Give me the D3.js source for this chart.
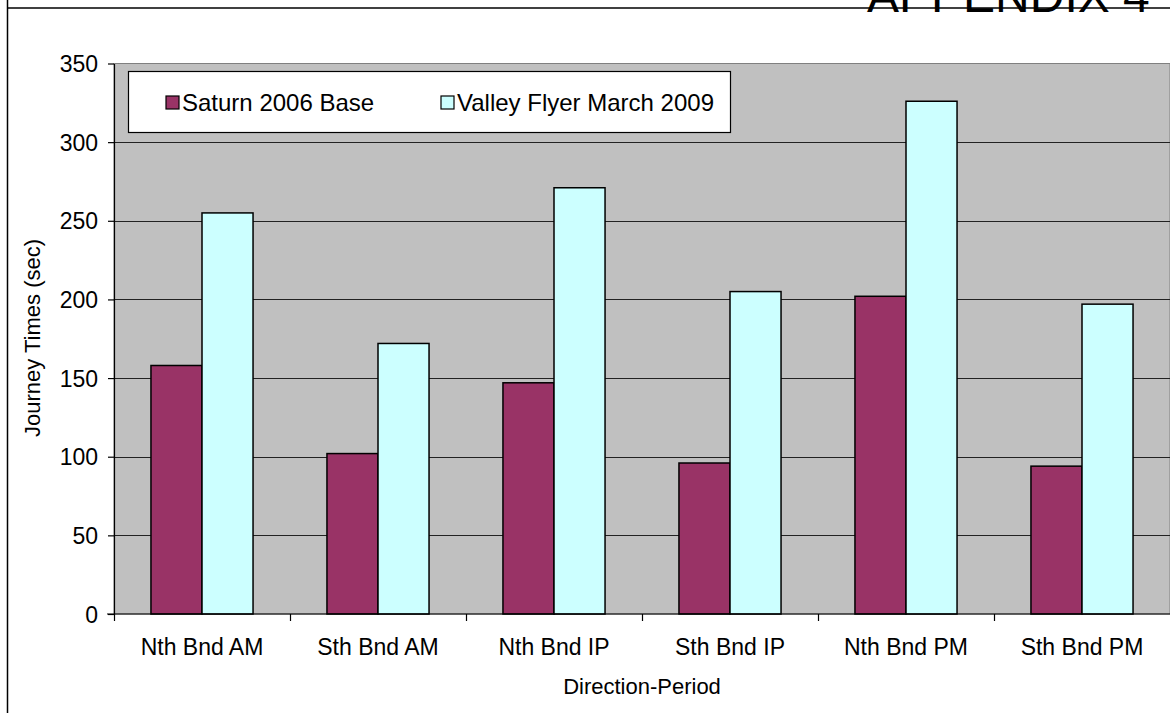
<!DOCTYPE html>
<html>
<head>
<meta charset="utf-8">
<script src="https://cdn.jsdelivr.net/npm/d3@7"></script>
<style>
  html, body { margin: 0; padding: 0; background: #fff; }
  svg { display: block; }
  text { font-family: "Liberation Sans", Arial, sans-serif; fill: #000; }
</style>
</head>
<body>
<svg id="chart" width="1170" height="713"></svg>
<script>
// Journey times by direction and period
const categories = ["Nth Bnd AM", "Sth Bnd AM", "Nth Bnd IP", "Sth Bnd IP", "Nth Bnd PM", "Sth Bnd PM"];
const seriesNames = ["Saturn 2006 Base", "Valley Flyer March 2009"];
const saturn2006 = [158, 102, 147, 96, 202, 94];
const valleyFlyer2009 = [255, 172, 271, 205, 326, 197];
const yTicks = [0, 50, 100, 150, 200, 250, 300, 350];
const seriesColors = ["#993366", "#CCFFFF"];

const svg = d3.select("#chart");
const W = 1170, H = 713;
const plot = { left: 114, right: 1170, top: 63.5, bottom: 614 };

// Page frame and heading
svg.append("line").attr("x1", 7.5).attr("y1", 0).attr("x2", 7.5).attr("y2", H)
  .attr("stroke", "#000").attr("stroke-width", 1.5);
svg.append("line").attr("x1", 7.5).attr("y1", 8).attr("x2", W).attr("y2", 8)
  .attr("stroke", "#000").attr("stroke-width", 1.5);
svg.append("text").attr("x", 867).attr("y", 12)
  .style("font-size", "48px").text("APPENDIX 4");

const x0 = d3.scaleBand().domain(categories).range([plot.left, plot.right]).padding(0);
const x1 = d3.scaleBand().domain(seriesNames)
  .range([x0.bandwidth() * 0.21, x0.bandwidth() * 0.79]).padding(0);
const y = d3.scaleLinear().domain([0, 350]).range([plot.bottom, plot.top]);

// Plot area background
svg.append("rect").attr("x", plot.left).attr("y", plot.top)
  .attr("width", plot.right - plot.left).attr("height", plot.bottom - plot.top)
  .attr("fill", "#C0C0C0").attr("stroke", "#808080").attr("stroke-width", 1);

// Horizontal gridlines
svg.append("g").selectAll("line").data(yTicks.filter(d => d > 0 && d < 350)).join("line")
  .attr("x1", plot.left).attr("x2", plot.right)
  .attr("y1", d => Math.round(y(d)) + 0.5).attr("y2", d => Math.round(y(d)) + 0.5)
  .attr("stroke", "#222").attr("stroke-width", 1.2);

// Bars
const rows = categories.map((c, i) => ({ cat: c, values: [saturn2006[i], valleyFlyer2009[i]] }));
const groups = svg.append("g").selectAll("g").data(rows).join("g")
  .attr("transform", d => `translate(${x0(d.cat)},0)`);
groups.selectAll("rect").data(d => d.values.map((v, k) => ({ name: seriesNames[k], v, k }))).join("rect")
  .attr("x", d => x1(d.name))
  .attr("y", d => y(d.v))
  .attr("width", x1.bandwidth())
  .attr("height", d => y(0) - y(d.v))
  .attr("fill", d => seriesColors[d.k])
  .attr("stroke", "#000").attr("stroke-width", 1.5);

// Y axis
const yAxis = svg.append("g").attr("transform", `translate(${plot.left},0)`)
  .call(d3.axisLeft(y).tickValues(yTicks).tickSize(6).tickPadding(10).tickSizeOuter(0));
yAxis.select(".domain").attr("stroke", "#000").attr("stroke-width", 1.2);
yAxis.selectAll(".tick line").attr("stroke", "#000").attr("stroke-width", 1.2);
yAxis.selectAll("text").style("font-size", "23px").attr("dy", "0.35em")
  .style("font-family", "'Liberation Sans', Arial, sans-serif");

// X axis: boundary ticks between categories
const boundaries = categories.map(c => x0(c));
const xAxisG = svg.append("g");
xAxisG.append("line").attr("x1", plot.left - 7).attr("x2", plot.right)
  .attr("y1", plot.bottom).attr("y2", plot.bottom)
  .attr("stroke", "#000").attr("stroke-width", 1.2);
xAxisG.selectAll("line.tk").data(boundaries).join("line").attr("class", "tk")
  .attr("x1", d => d + 0.5).attr("x2", d => d + 0.5)
  .attr("y1", plot.bottom).attr("y2", plot.bottom + 7)
  .attr("stroke", "#000").attr("stroke-width", 1.2);
xAxisG.selectAll("text").data(categories).join("text")
  .attr("x", d => x0(d) + x0.bandwidth() / 2)
  .attr("y", 655)
  .attr("text-anchor", "middle")
  .style("font-size", "23px")
  .text(d => d);

// Axis titles
svg.append("text").attr("x", 642).attr("y", 694).attr("text-anchor", "middle")
  .style("font-size", "22px").text("Direction-Period");
svg.append("text").attr("transform", "translate(40,338) rotate(-90)")
  .attr("text-anchor", "middle").style("font-size", "22px").text("Journey Times (sec)");

// Legend
const lg = svg.append("g");
lg.append("rect").attr("x", 128.5).attr("y", 71.5).attr("width", 602).attr("height", 61)
  .attr("fill", "#fff").attr("stroke", "#000").attr("stroke-width", 1.2);
const legendX = [166, 441];
seriesNames.forEach((name, k) => {
  lg.append("rect").attr("x", legendX[k]).attr("y", 96).attr("width", 13).attr("height", 13)
    .attr("fill", seriesColors[k]).attr("stroke", "#000").attr("stroke-width", 1.2);
  lg.append("text").attr("x", legendX[k] + 16).attr("y", 111)
    .style("font-size", "24px").text(name);
});
</script>
</body>
</html>
